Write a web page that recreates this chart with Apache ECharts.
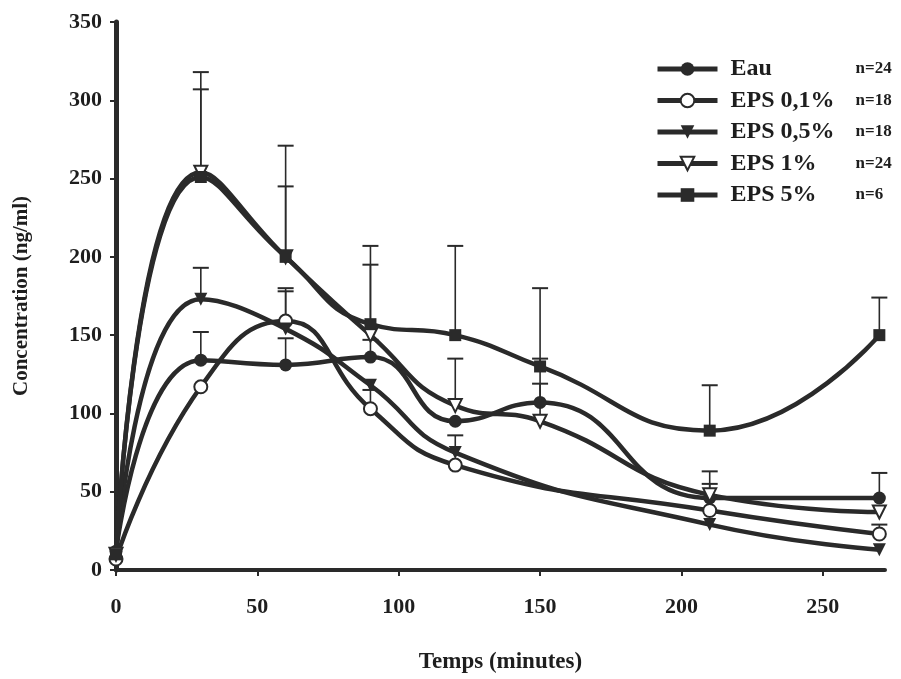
<!DOCTYPE html>
<html>
<head>
<meta charset="utf-8">
<script src="https://cdn.jsdelivr.net/npm/echarts@6/dist/echarts.min.js"></script>
<style>html,body{margin:0;padding:0;background:#fff;}#c{width:901px;height:679px;}</style>
</head>
<body>
<div id="c"></div>
<script>
// ---- data ----
const times = [0, 30, 60, 90, 120, 150, 210, 270];
const seriesNames = ['Eau', 'EPS 0,1%', 'EPS 0,5%', 'EPS 1%', 'EPS 5%'];
const nLabels = ['n=24', 'n=18', 'n=18', 'n=24', 'n=6'];

const eau   = [12, 134, 131, 136, 95, 107, 46, 46];
const eps01 = [7, 117, 159, 103, 67, null, 38, 23];
const eps05 = [10, 173, 154, 118, 75, null, 29, 13];
const eps1  = [10, 254, 200, 150, 105, 95, 48, 37];
const eps5  = [10, 251, 200, 157, 150, 130, 89, 150];

// upper end of error bars (mean + SEM)
const eauErr   = [null, 152, 148, 147, null, 135, 63, 62];
const eps01Err = [null, null, 180, 115, null, null, null, 29];
const eps05Err = [null, 193, 178, null, 86, null, null, null];
const eps1Err  = [null, 307, 245, 195, 135, 119, 55, null];
const eps5Err  = [null, 318, 271, 207, 207, 180, 118, 174];

const xTicks = [0, 50, 100, 150, 200, 250];
const yTicks = [0, 50, 100, 150, 200, 250, 300, 350];

// ---- build ----
const INK = '#2a2a2a';
const FONT = 'Liberation Serif';
const values = [eau, eps01, eps05, eps1, eps5];
const errs = [eauErr, eps01Err, eps05Err, eps1Err, eps5Err];
const symbols = [
  {symbol: 'circle', rotate: 0, fill: INK},
  {symbol: 'circle', rotate: 0, fill: '#fff'},
  {symbol: 'triangle', rotate: 180, fill: INK},
  {symbol: 'triangle', rotate: 180, fill: '#fff'},
  {symbol: 'rect', rotate: 0, fill: INK}
];
const nMap = {};
seriesNames.forEach((n, i) => nMap[n] = nLabels[i]);

function pairs(arr) {
  const out = [];
  arr.forEach((v, i) => { if (v !== null) out.push([times[i], v]); });
  return out;
}
function errData(mean, up) {
  const out = [];
  up.forEach((v, i) => { if (v !== null && mean[i] !== null) out.push([times[i], mean[i], v]); });
  return out;
}

const series = [];
errs.forEach((e, k) => {
  series.push({
    type: 'custom',
    name: 'err' + k,
    z: 1,
    silent: true,
    data: errData(values[k], e),
    renderItem: function (params, api) {
      const x = api.value(0), y = api.value(1), u = api.value(2);
      const p0 = api.coord([x, y]);
      const p1 = api.coord([x, u]);
      return {
        type: 'group',
        children: [
          {type: 'line', shape: {x1: p0[0], y1: p0[1], x2: p1[0], y2: p1[1]}, style: {stroke: INK, lineWidth: 1.6}},
          {type: 'line', shape: {x1: p1[0] - 8, y1: p1[1], x2: p1[0] + 8, y2: p1[1]}, style: {stroke: INK, lineWidth: 2}}
        ]
      };
    }
  });
});
seriesNames.forEach((name, k) => {
  const s = symbols[k];
  series.push({
    type: 'line',
    name: name,
    z: 3,
    smooth: 0.5,
    data: pairs(values[k]),
    symbol: s.symbol,
    symbolRotate: s.rotate,
    symbolSize: s.symbol === 'rect' ? 12 : 13,
    showAllSymbol: true,
    lineStyle: {color: INK, width: 4.5},
    itemStyle: {color: s.fill, borderColor: INK, borderWidth: s.fill === '#fff' ? 2 : 0}
  });
});

const chart = echarts.init(document.getElementById('c'), null, {renderer: 'canvas'});
chart.setOption({
  backgroundColor: '#fff',
  animation: false,
  grid: {left: 116, right: 16, top: 22, bottom: 106, containLabel: false},
  legend: {
    data: seriesNames,
    orient: 'vertical',
    left: 655,
    top: 57,
    padding: 0,
    itemWidth: 60,
    itemHeight: 17,
    itemGap: 7.5,
    lineStyle: {width: 5, color: INK},
    formatter: name => '{a|' + name + '}{b|' + nMap[name] + '}',
    textStyle: {
      rich: {
        a: {width: 125, fontSize: 24, fontWeight: 'bold', fontFamily: FONT, color: '#1e1e1e', padding: [0, 0, 0, 8], lineHeight: 26},
        b: {fontSize: 17, fontWeight: 'bold', fontFamily: FONT, color: '#1e1e1e', lineHeight: 26}
      }
    }
  },
  xAxis: {
    type: 'value',
    min: 0,
    max: 272,
    interval: 50,
    name: 'Temps (minutes)',
    nameLocation: 'middle',
    nameGap: 81,
    nameTextStyle: {fontSize: 23, fontWeight: 'bold', fontFamily: FONT, color: '#1e1e1e'},
    axisLine: {onZero: false, lineStyle: {color: INK, width: 4}},
    axisTick: {show: true, length: 6, lineStyle: {color: INK, width: 2}},
    axisLabel: {
      margin: 26,
      fontSize: 22, fontWeight: 'bold', fontFamily: FONT, color: '#1e1e1e',
      showMaxLabel: false,
      formatter: v => xTicks.indexOf(v) >= 0 ? String(v) : ''
    },
    splitLine: {show: false}
  },
  yAxis: {
    type: 'value',
    min: 0,
    max: 350,
    interval: 50,
    name: 'Concentration (ng/ml)',
    nameLocation: 'middle',
    nameGap: 84,
    nameTextStyle: {fontSize: 21, fontWeight: 'bold', fontFamily: FONT, color: '#1e1e1e'},
    axisLine: {show: true, lineStyle: {color: INK, width: 5}},
    axisTick: {show: true, length: 6, lineStyle: {color: INK, width: 2}},
    axisLabel: {
      margin: 14,
      fontSize: 22, fontWeight: 'bold', fontFamily: FONT, color: '#1e1e1e',
      formatter: v => yTicks.indexOf(v) >= 0 ? String(v) : ''
    },
    splitLine: {show: false}
  },
  series: series
});
</script>
</body>
</html>
